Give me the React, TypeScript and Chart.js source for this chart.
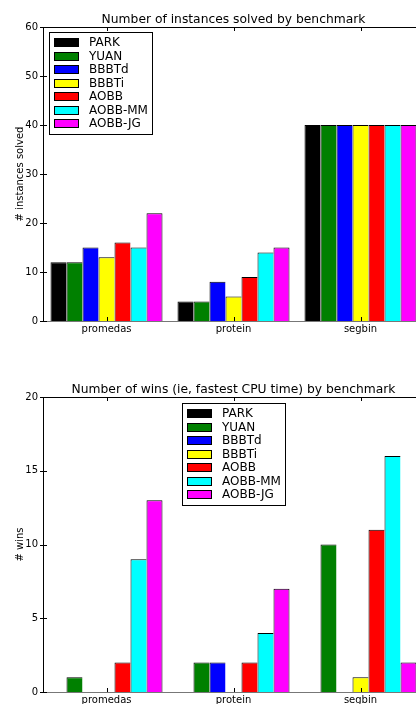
import React, { useEffect, useRef } from "react";
import { Chart, registerables } from "chart.js";

Chart.register(...registerables);

const categories = ["promedas", "protein", "segbin"];
const seriesNames = ["PARK", "YUAN", "BBBTd", "BBBTi", "AOBB", "AOBB-MM", "AOBB-JG"];
const seriesColors = ["#000000", "#008000", "#0000ff", "#ffff00", "#ff0000", "#00ffff", "#ff00ff"];

// Chart 1: Number of instances solved (per series: promedas, protein, segbin)
const solvedPARK = [12, 4, 40];
const solvedYUAN = [12, 4, 40];
const solvedBBBTd = [15, 8, 40];
const solvedBBBTi = [13, 5, 40];
const solvedAOBB = [16, 9, 40];
const solvedAOBBMM = [15, 14, 40];
const solvedAOBBJG = [22, 15, 40];

// Chart 2: Number of wins
const winsPARK = [0, 0, 0];
const winsYUAN = [1, 2, 10];
const winsBBBTd = [0, 2, 0];
const winsBBBTi = [0, 0, 1];
const winsAOBB = [2, 2, 11];
const winsAOBBMM = [9, 4, 16];
const winsAOBBJG = [13, 7, 2];

const solvedTicks = [0, 10, 20, 30, 40, 50, 60];
const winsTicks = [0, 5, 10, 15, 20];

const FONT = "'DejaVu Sans', sans-serif";

function makeDecor(title: string, legendPos: "left" | "center") {
  return {
    id: "decor",
    afterDraw(chart: any) {
      const ctx = chart.ctx as CanvasRenderingContext2D;
      const a = chart.chartArea;
      const xs = chart.scales.x;
      const ys = chart.scales.y;
      ctx.save();
      // title
      ctx.fillStyle = "#000";
      ctx.font = `12.3px ${FONT}`;
      ctx.textAlign = "center";
      ctx.textBaseline = "alphabetic";
      ctx.fillText(title, (a.left + a.right) / 2, a.top - 4.5);
      // spines
      ctx.strokeStyle = "#000";
      ctx.lineWidth = 1;
      ctx.beginPath();
      ctx.moveTo(a.left + 0.5, a.top + 0.5);
      ctx.lineTo(a.right, a.top + 0.5);
      ctx.moveTo(a.left + 0.5, a.top);
      ctx.lineTo(a.left + 0.5, a.bottom + 1);
      ctx.stroke();
      ctx.strokeStyle = "#777";
      ctx.beginPath();
      ctx.moveTo(a.left, a.bottom + 0.5);
      ctx.lineTo(a.right, a.bottom + 0.5);
      ctx.stroke();
      // ticks
      ctx.strokeStyle = "#000";
      ctx.beginPath();
      for (let i = 0; i < xs.ticks.length; i++) {
        const px = Math.round(xs.getPixelForTick(i)) + 0.5;
        ctx.moveTo(px, a.top);
        ctx.lineTo(px, a.top + 4);
        ctx.moveTo(px, a.bottom);
        ctx.lineTo(px, a.bottom - 4);
      }
      for (let i = 0; i < ys.ticks.length; i++) {
        const py = Math.round(ys.getPixelForTick(i)) + 0.5;
        ctx.moveTo(a.left - 3, py);
        ctx.lineTo(a.left + 4, py);
      }
      ctx.stroke();
      // legend
      const boxW = 103;
      const rowH = 13.5;
      const n = chart.data.datasets.length;
      const boxH = 11 + 10 + rowH * (n - 1);
      const bx = legendPos === "left" ? a.left + 6 : Math.round((a.left + a.right) / 2 - boxW / 2);
      const by = legendPos === "left" ? a.top + 5 : a.top + 6;
      ctx.fillStyle = "#fff";
      ctx.fillRect(bx, by, boxW, boxH);
      ctx.strokeStyle = "#000";
      ctx.strokeRect(bx + 0.5, by + 0.5, boxW, boxH);
      ctx.font = `12px ${FONT}`;
      ctx.textAlign = "left";
      ctx.textBaseline = "middle";
      chart.data.datasets.forEach((ds: any, i: number) => {
        const cy = by + 10 + rowH * i;
        ctx.fillStyle = ds.backgroundColor;
        ctx.fillRect(bx + 5, Math.round(cy - 4), 25, 8);
        ctx.strokeStyle = "#000";
        ctx.strokeRect(bx + 5.5, Math.round(cy - 4) + 0.5, 24, 8);
        ctx.fillStyle = "#000";
        ctx.fillText(ds.label, bx + 40, cy + 1);
      });
      ctx.restore();
    },
  };
}

function makeConfig(
  series: number[][],
  yTicks: number[],
  yTitle: string,
  title: string,
  legendPos: "left" | "center",
  padTop: number,
  padBottom: number
): any {
  return {
    type: "bar",
    data: {
      labels: categories,
      datasets: series.map((vals, i) => ({
        label: seriesNames[i],
        data: vals,
        backgroundColor: seriesColors[i],
        borderColor: "#000",
        borderWidth: { top: 1, left: 1, right: i === series.length - 1 ? 1 : 0, bottom: 0 },
        borderSkipped: false,
        barPercentage: 1,
        categoryPercentage: 0.882,
      })),
    },
    options: {
      responsive: false,
      animation: false,
      layout: { padding: { top: padTop, right: 6, bottom: padBottom, left: 0 } },
      plugins: {
        legend: { display: false },
        title: { display: false },
        tooltip: { enabled: false },
      },
      scales: {
        x: {
          grid: { display: false, drawTicks: false },
          border: { display: false },
          ticks: { font: { family: FONT, size: 10 }, color: "#000", padding: 2 },
          afterFit: (s: any) => {
            s.height = 20;
          },
        },
        y: {
          min: yTicks[0],
          max: yTicks[yTicks.length - 1],
          afterBuildTicks: (s: any) => {
            s.ticks = yTicks.map((v) => ({ value: v }));
          },
          grid: { display: false, drawTicks: false },
          border: { display: false },
          ticks: { font: { family: FONT, size: 10 }, color: "#000", padding: 5 },
          title: {
            display: true,
            text: yTitle,
            font: { family: FONT, size: 10 },
            color: "#000",
            padding: { top: 14, bottom: 0 },
          },
          afterFit: (s: any) => {
            s.width = 43;
          },
        },
      },
    },
    plugins: [makeDecor(title, legendPos)],
  };
}

export default function App() {
  const topRef = useRef<HTMLCanvasElement>(null);
  const botRef = useRef<HTMLCanvasElement>(null);

  useEffect(() => {
    const c1 = new Chart(
      topRef.current!,
      makeConfig(
        [solvedPARK, solvedYUAN, solvedBBBTd, solvedBBBTi, solvedAOBB, solvedAOBBMM, solvedAOBBJG],
        solvedTicks,
        "# instances solved",
        "Number of instances solved by benchmark",
        "left",
        27,
        11
      )
    );
    const c2 = new Chart(
      botRef.current!,
      makeConfig(
        [winsPARK, winsYUAN, winsBBBTd, winsBBBTi, winsAOBB, winsAOBBMM, winsAOBBJG],
        winsTicks,
        "# wins",
        "Number of wins (ie, fastest CPU time) by benchmark",
        "center",
        45,
        10
      )
    );
    return () => {
      c1.destroy();
      c2.destroy();
    };
  }, []);

  return (
    <div
      style={{
        position: "fixed",
        left: 0,
        top: 0,
        width: 416,
        height: 704,
        overflow: "hidden",
        background: "#fff",
      }}
    >
      <canvas ref={topRef} width={430} height={352} style={{ position: "absolute", left: 0, top: 0 }} />
      <canvas ref={botRef} width={430} height={370} style={{ position: "absolute", left: 0, top: 352 }} />
    </div>
  );
}
